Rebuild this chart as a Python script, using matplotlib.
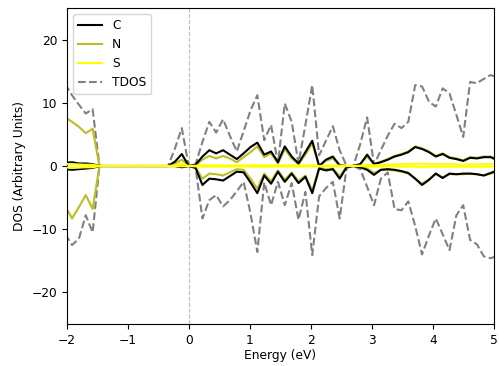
import matplotlib
matplotlib.use("Agg")
import matplotlib.pyplot as plt

plt.rcParams["font.size"] = 8.8

energy = [-2.030, -1.918, -1.805, -1.693, -1.580, -1.468, -1.355, -1.243, -1.130, -1.018,
          -0.905, -0.793, -0.680, -0.568, -0.455, -0.343, -0.230, -0.118, -0.005, 0.108,
          0.220, 0.333, 0.445, 0.558, 0.670, 0.783, 0.895, 1.008, 1.120, 1.233,
          1.345, 1.458, 1.570, 1.683, 1.795, 1.908, 2.020, 2.133, 2.245, 2.358,
          2.470, 2.583, 2.695, 2.808, 2.920, 3.033, 3.145, 3.258, 3.370, 3.483,
          3.595, 3.708, 3.820, 3.933, 4.045, 4.158, 4.270, 4.383, 4.495, 4.608,
          4.720, 4.833, 4.945, 5.058]

tdos_up = [13.0, 11.2, 9.7, 8.3, 9.0, 0, 0, 0, 0, 0,
           0, 0, 0, 0, 0, 0, 2.8, 6.0, 0, 0.3,
           3.8, 7.0, 5.3, 7.4, 4.8, 2.3, 5.5, 8.8, 11.2, 4.1,
           6.5, 0.4, 9.9, 7.0, 0.4, 6.5, 12.8, 1.7, 4.0, 6.3,
           2.5, 0.0, 0.0, 3.5, 7.7, 0.2, 2.5, 4.8, 6.7, 6.0,
           7.0, 12.8, 12.6, 10.2, 9.4, 12.3, 11.5, 8.1, 4.6, 13.3,
           13.1, 13.8, 14.4, 14.0]
tdos_down = [-10.8, -12.5, -11.5, -7.8, -10.5, 0, 0, 0, 0, 0,
             0, 0, 0, 0, 0, 0, 0, 0, 0, -0.3,
             -8.3, -5.4, -4.6, -6.4, -5.4, -4.0, -2.5, -7.5, -13.6, -2.6,
             -6.2, -2.5, -6.2, -2.7, -8.5, -4.1, -14.1, -4.8, -3.5, -2.5,
             -8.3, -0.3, 0, -0.5, -3.3, -6.2, -2.0, -1.0, -6.8, -7.0,
             -5.6, -9.5, -14.0, -11.0, -8.3, -10.8, -13.3, -7.8, -6.2, -11.7,
             -12.4, -14.3, -14.6, -14.2]

c_up = [0.5, 0.6, 0.4, 0.4, 0.3, 0, 0, 0, 0, 0,
        0, 0, 0, 0, 0, 0, 0.7, 1.9, 0, 0.2,
        1.5, 2.5, 2.0, 2.5, 1.8, 1.1, 2.0, 3.0, 3.7, 1.8,
        2.3, 0.6, 3.1, 1.5, 0.4, 2.2, 4.0, 0.0, 1.0, 1.5,
        0.1, 0, 0, 0.3, 1.8, 0.3, 0.6, 1.0, 1.5, 1.8,
        2.2, 3.0, 2.7, 2.2, 1.5, 1.9, 1.3, 1.1, 0.8, 1.3,
        1.2, 1.4, 1.4, 0.9]
c_down = [-0.5, -0.6, -0.5, -0.4, -0.3, 0, 0, 0, 0, 0,
          0, 0, 0, 0, 0, 0, 0, -0.2, 0, -0.3,
          -3.0, -2.0, -2.1, -2.3, -1.6, -0.9, -1.0, -2.6, -4.3, -1.5,
          -2.8, -0.9, -2.5, -1.2, -2.7, -1.7, -4.3, -0.4, -0.7, -0.5,
          -2.0, -0.2, 0, -0.2, -0.6, -1.4, -0.6, -0.5, -0.6, -0.8,
          -1.1, -2.0, -3.0, -2.2, -1.2, -1.9, -1.2, -1.3, -1.2, -1.2,
          -1.3, -1.5, -1.1, -0.7]

n_up = [7.7, 7.0, 6.2, 5.2, 5.9, 0, 0, 0, 0, 0,
        0, 0, 0, 0, 0, 0, 0.4, 1.0, 0, 0.1,
        1.0, 1.6, 1.2, 1.6, 1.2, 0.6, 1.4, 2.2, 3.1, 1.4,
        2.0, 0.4, 2.7, 1.2, 0.3, 1.8, 3.6, 0.0, 0.8, 1.2,
        0.1, 0, 0, 0.3, 1.5, 0.3, 0.7, 1.1, 1.6, 1.9,
        2.3, 3.1, 2.8, 2.3, 1.6, 2.0, 1.4, 1.2, 0.9, 1.4,
        1.3, 1.5, 1.5, 1.1]
n_down = [-6.3, -8.3, -6.5, -4.6, -6.8, 0, 0, 0, 0, 0,
          0, 0, 0, 0, 0, 0, 0, -0.1, 0, -0.2,
          -2.0, -1.2, -1.3, -1.5, -1.0, -0.5, -0.6, -2.0, -3.6, -1.2,
          -2.4, -0.7, -2.2, -1.0, -2.4, -1.5, -3.9, -0.3, -0.5, -0.4,
          -1.6, -0.1, 0, -0.1, -0.4, -1.1, -0.6, -0.6, -0.7, -0.9,
          -1.2, -2.0, -2.8, -2.1, -1.2, -1.8, -1.3, -1.3, -1.3, -1.2,
          -1.3, -1.5, -1.2, -0.8]

s_up = [0.3, 0.3, 0.25, 0.2, 0.2, 0, 0, 0, 0, 0,
        0, 0, 0, 0, 0, 0, 0.1, 0.4, 0, 0.05,
        0.1, 0.1, 0.1, 0.1, 0.1, 0.05, 0.1, 0.1, 0.1, 0.1,
        0.1, 0.05, 0.1, 0.1, 0.05, 0.1, 0.1, 0.0, 0.05, 0.1,
        0.05, 0, 0, 0.05, 0.2, 0.1, 0.15, 0.2, 0.25, 0.3,
        0.3, 0.35, 0.35, 0.3, 0.3, 0.3, 0.3, 0.25, 0.2, 0.25,
        0.25, 0.3, 0.3, 0.25]
s_down = [-0.2, -0.3, -0.25, -0.2, -0.2, 0, 0, 0, 0, 0,
          0, 0, 0, 0, 0, 0, 0, -0.05, 0, -0.05,
          -0.1, -0.1, -0.1, -0.1, -0.1, -0.05, -0.05, -0.1, -0.1, -0.1,
          -0.1, -0.05, -0.1, -0.05, -0.1, -0.05, -0.1, 0.0, -0.05, -0.05,
          -0.1, 0, 0, 0, -0.05, -0.1, -0.05, -0.05, -0.05, -0.1,
          -0.1, -0.1, -0.15, -0.1, -0.1, -0.1, -0.1, -0.1, -0.1, -0.1,
          -0.1, -0.1, -0.1, -0.05]

fig = plt.figure(figsize=(4.99, 3.66), dpi=100)
ax = fig.add_axes([0.1343, 0.1148, 0.8557, 0.8632])

lw = 1.5
ax.plot(energy, c_up, color="black", lw=lw, label="C", zorder=3)
ax.plot(energy, c_down, color="black", lw=lw, zorder=3)
ax.plot(energy, n_up, color="#bcbd22", lw=lw, label="N", zorder=2.5)
ax.plot(energy, n_down, color="#bcbd22", lw=lw, zorder=2.5)
ax.plot(energy, s_up, color="yellow", lw=lw, label="S", zorder=3.5)
ax.plot(energy, s_down, color="yellow", lw=lw, zorder=3.5)
ax.plot(energy, tdos_up, color="grey", lw=lw, ls="--", label="TDOS", zorder=2)
ax.plot(energy, tdos_down, color="grey", lw=lw, ls="--", zorder=2)
ax.axvline(0, color="#bbbbbb", lw=0.8, ls="--", zorder=1)

ax.set_xlim(-2, 5)
ax.set_ylim(-25, 25)
ax.set_xticks([-2, -1, 0, 1, 2, 3, 4, 5])
ax.set_yticks([-20, -10, 0, 10, 20])
ax.set_xlabel("Energy (eV)", labelpad=2)
ax.set_ylabel("DOS (Arbitrary Units)")
ax.legend(loc="upper left")

fig.savefig("out.png", dpi=100)
